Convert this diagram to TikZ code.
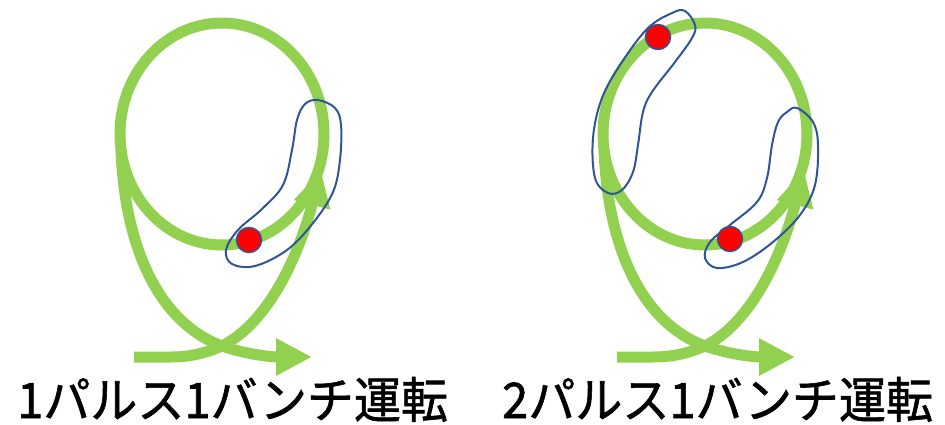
\documentclass[tikz,border=0pt]{standalone}
\usepackage{fontspec}
\newfontfamily\jpfont[FakeBold=1.2]{Noto Sans CJK JP}
\usetikzlibrary{arrows.meta}
\definecolor{beamgreen}{RGB}{146,208,80}
\definecolor{bunchblue}{RGB}{47,85,151}
\begin{document}
\begin{tikzpicture}[x=1pt,y=-1pt,
  beamline/.style={draw=beamgreen,line width=11pt},
  beamarrow/.style={beamline,-{Triangle[length=36pt,width=35pt]}},
  bunchline/.style={draw=bunchblue,line width=2pt},
  bunchdot/.style={circle,fill=red,draw=bunchblue,line width=1.5pt,minimum size=25pt,inner sep=0pt},
  captiontext/.style={font=\jpfont\fontsize{49}{49}\selectfont,anchor=base west,inner sep=0pt,xscale=0.96}]
\useasboundingbox (0,0) rectangle (945,424);
\foreach \sx/\nm in {0/L,483/R}{
\begin{scope}[xshift=\sx]
  \coordinate (ringC\nm) at (222,134);
  \coordinate (inS\nm) at (134,357);
  \coordinate (inA\nm) at (170,357);
  \coordinate (cross\nm) at (222,346);
  \coordinate (inE\nm) at (321,170);
  \coordinate (exS\nm) at (121,150);
  \coordinate (exE\nm) at (312,357);
  \draw[beamline] (ringC\nm) ellipse [x radius=102, y radius=111];
  \draw[beamarrow] (exS\nm) .. controls +(4,100) and +(-62,-23) .. (cross\nm)
     .. controls +(23,8) and +(-42,0) .. (exE\nm);
  \draw[beamarrow] (inS\nm) -- (inA\nm) .. controls +(25,0) and +(-12,5) .. (cross\nm)
     .. controls +(53,-27) and +(-18,70) .. (inE\nm);
\end{scope}
}
% left bunch
\draw[bunchline] plot[smooth cycle, tension=0.6] coordinates {
 (318,100) (335,108) (341,125) (340,160) (333,192) (313,223) (287,250) (255,266)
 (232,264) (226,250) (238,230) (262,209) (283,185) (292,150) (297,120) (305,104)};
\node[bunchdot] (dotL) at (249,240) {};
% right lower bunch
\draw[bunchline] plot[smooth cycle, tension=0.6] coordinates {
 (797,108) (813,122) (818,145) (815,185) (800,215) (773,242) (743,262) (717,268)
 (705,258) (710,242) (730,225) (757,202) (767,178) (772,145) (778,122) (787,112)};
\node[bunchdot] (dotR1) at (730,239) {};
% right upper bunch
\draw[bunchline] plot[smooth cycle, tension=0.6] coordinates {
 (685,11) (695,25) (692,38) (675,62) (652,92) (643,112) (638,145) (633,172)
 (622,190) (608,193) (595,178) (593,138) (602,98) (622,62) (648,28) (672,13)};
\node[bunchdot] (dotR2) at (658,37) {};
% captions
\node[captiontext] (capL) at (17,418) {1パルス1バンチ運転};
\node[captiontext] (capR) at (502,418) {2パルス1バンチ運転};
\end{tikzpicture}
\end{document}
